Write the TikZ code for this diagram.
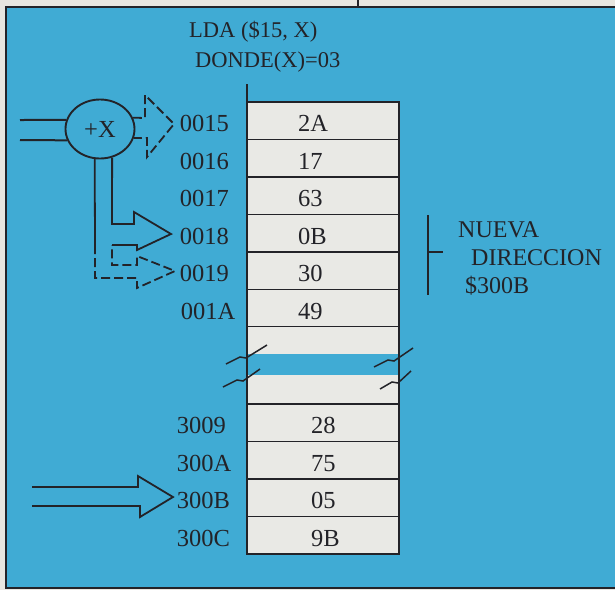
\documentclass[tikz,border=0pt]{standalone}
\usepackage{fontspec}
\setmainfont{Liberation Serif}
\usetikzlibrary{shapes.geometric, positioning}

\definecolor{bgblue}{RGB}{64,171,212}
\definecolor{paper}{RGB}{232,230,224}
\definecolor{cellfill}{RGB}{233,233,229}
\definecolor{ink}{RGB}{35,35,40}

\newcommand{\memfont}{\fontsize{24.5}{29}\selectfont}
\newcommand{\headfont}{\fontsize{22.5}{27}\selectfont}

\begin{document}
\begin{tikzpicture}[
        x=1pt, y=-1pt,
        cell/.style={rectangle, draw=ink, line width=1.8pt, fill=cellfill, outer sep=0pt, minimum height=37.5pt, inner xsep=51pt, inner ysep=0pt, text width=50pt, align=left, text height=22pt, text depth=0pt, font=\memfont, text=ink},
        lowcell/.style={cell, inner xsep=64pt, text width=24pt},
        gapcell/.style={rectangle, fill=cellfill, outer sep=0pt, inner sep=0pt, minimum width=152pt},
        addr/.style={inner sep=0pt, text width=63pt, align=left, text height=22pt, text depth=0pt, font=\memfont, text=ink},
        head/.style={inner sep=0pt, anchor=base west, font=\headfont, text=ink},
        note/.style={inner sep=0pt, anchor=base west, font=\fontsize{24}{28}\selectfont, text=ink},
        sumnode/.style={ellipse, draw=ink, line width=1.9pt, minimum width=69pt, minimum height=59pt, inner sep=0pt, font=\memfont, text=ink},
        colline/.style={draw=ink, line width=2pt},
        hollow/.style={draw=ink, line width=1.8pt, line join=miter},
        dashhollow/.style={hollow, dash pattern=on 9pt off 4pt},
        breakline/.style={draw=ink, line width=1.5pt}
    ]
    \useasboundingbox (0,0) rectangle (615,590);

    % Background and frame
    \fill[paper] (0,0) rectangle (615,590);
    \fill[bgblue] (6,7) rectangle (615,588);
    \draw[ink, line width=2.2pt] (615,7) -- (6,7) -- (6,588) -- (615,588);
    \draw[ink, line width=1.6pt] (358,0) -- (358,7);

    % Instruction
    \node[head] (lda) at (189,37) {LDA (\$15, X)};
    \node[head] (donde) at (195,67) {DONDE(X)=03};

    % Memory: zero page
    \node[cell, anchor=north west] (c15) at (247,102) {2A};
    \node[cell, below=0pt of c15] (c16) {17};
    \node[cell, below=0pt of c16] (c17) {63};
    \node[cell, below=0pt of c17] (c18) {0B};
    \node[cell, below=0pt of c18] (c19) {30};
    \node[cell, below=0pt of c19] (c1A) {49};

    % Break in the memory
    \node[gapcell, minimum height=27pt, below=0pt of c1A] (gapa) {};
    \node[gapcell, minimum height=29pt, below=21pt of gapa] (gapb) {};

    % Memory: page 30
    \node[lowcell, below=0pt of gapb] (c3009) {28};
    \node[lowcell, below=0pt of c3009] (c300A) {75};
    \node[lowcell, below=0pt of c300A] (c300B) {05};
    \node[lowcell, below=0pt of c300B] (c300C) {9B};

    % Addresses
    \node[addr, left=4pt of c15] (a0015) {0015};
    \node[addr, left=4pt of c16] (a0016) {0016};
    \node[addr, left=4pt of c17] (a0017) {0017};
    \node[addr, left=4pt of c18] (a0018) {0018};
    \node[addr, left=4pt of c19] (a0019) {0019};
    \node[addr, left=3pt of c1A] (a001A) {001A};
    \node[addr, left=7pt of c3009] (a3009) {3009};
    \node[addr, left=7pt of c300A] (a300A) {300A};
    \node[addr, left=7pt of c300B] (a300B) {300B};
    \node[addr, left=7pt of c300C] (a300C) {300C};

    % Column sides
    \draw[colline] (c15.north west) -- ++(0,-18);
    \draw[colline] (gapa.north west) -- (gapb.south west);
    \draw[colline] (gapa.north east) -- (gapb.south east);
    \draw[breakline] (226,364) -- ++(14,-7) -- ++(6,1) -- ++(21,-13);
    \draw[breakline] (223,387) -- ++(14,-7) -- ++(6,1) -- ++(17,-12);
    \draw[breakline] (374,367) -- ++(14,-7) -- ++(6,1) -- ++(19,-13);
    \draw[breakline] (380,389) -- ++(12,-7) -- ++(6,1) -- ++(13,-12);

    % New address
    \coordinate (brtop) at (428,215);
    \coordinate (brbot) at (428,295);
    \coordinate (brmid) at (428,252);
    \draw[colline] (brtop) -- (brbot);
    \draw[colline] (brmid) -- ++(15,0);
    \node[note] (nueva) at (458,237) {NUEVA};
    \node[note] (direccion) at (471,265) {DIRECCION};
    \node[note] (newaddr) at (465,293) {\$300B};

    % Indexing
    \node[sumnode] (plus) at (100,129) {+X};
    \coordinate (inA) at (20,120);
    \coordinate (inB) at (20,140);
    \draw[colline] (inA) -- (plus.165);
    \draw[colline] (inB) -- (plus.199);

    \draw[dashhollow] (plus.19) -- (145,118) -- (145,95) -- (174,124) -- (147,157) -- (147,138) -- (plus.345);
    \draw[hollow] (plus.293) -- (112,224) -- (134,224) -- (134,212) -- (171,234) -- (137,250) -- (137,245) -- (112,245);
    \draw[hollow] (plus.260) -- (95,245);
    \draw[dashhollow] (95,245) -- (95,278) -- (137,278) -- (137,288) -- (175,271) -- (137,256) -- (137,265) -- (112,265) -- (112,245);

    % Effective address
    \draw[hollow] (32,487) -- (138,487) -- (138,476) -- (173,497) -- (140,517) -- (140,506) -- (32,506);

\end{tikzpicture}
\end{document}
